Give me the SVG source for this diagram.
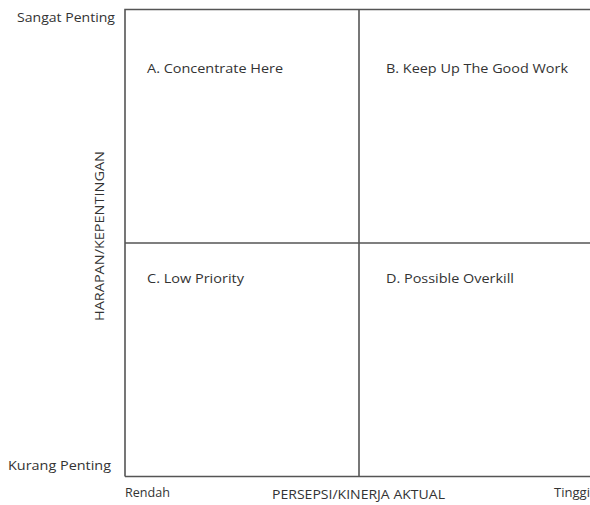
<svg xmlns="http://www.w3.org/2000/svg" width="590" height="505" viewBox="0 0 590 505">
<style>
text{font-family:"Open Sans","Liberation Sans",sans-serif;font-size:12.5px;fill:#333}
.ln{stroke:#555;stroke-width:1.6;fill:none}
</style>
<rect width="590" height="505" fill="#fff"/>
<g id="connectors">
<path class="ln" d="M125,476.5 V9.5 H590"/>
<path class="ln" d="M125,476.5 H590"/>
<path class="ln" d="M359,9.5 V476.5"/>
<path class="ln" d="M125,243 H590"/>
</g>
<g id="axis-labels">
<text x="17" y="22" textLength="98" lengthAdjust="spacingAndGlyphs">Sangat Penting</text>
<text x="8" y="470" textLength="103" lengthAdjust="spacingAndGlyphs">Kurang Penting</text>
<text x="125" y="497" textLength="45" lengthAdjust="spacingAndGlyphs">Rendah</text>
<text x="272" y="499" textLength="173" lengthAdjust="spacingAndGlyphs">PERSEPSI/KINERJA AKTUAL</text>
<text x="554" y="497" textLength="36" lengthAdjust="spacingAndGlyphs">Tinggi</text>
<text transform="translate(104,321) rotate(-90)" x="0" y="0" textLength="170" lengthAdjust="spacingAndGlyphs">HARAPAN/KEPENTINGAN</text>
</g>
<g id="quadrant-A"><text x="147" y="73" textLength="136" lengthAdjust="spacingAndGlyphs">A. Concentrate Here</text></g>
<g id="quadrant-B"><text x="386" y="73" textLength="182" lengthAdjust="spacingAndGlyphs">B. Keep Up The Good Work</text></g>
<g id="quadrant-C"><text x="147" y="283" textLength="97" lengthAdjust="spacingAndGlyphs">C. Low Priority</text></g>
<g id="quadrant-D"><text x="386" y="283" textLength="128" lengthAdjust="spacingAndGlyphs">D. Possible Overkill</text></g>
</svg>
